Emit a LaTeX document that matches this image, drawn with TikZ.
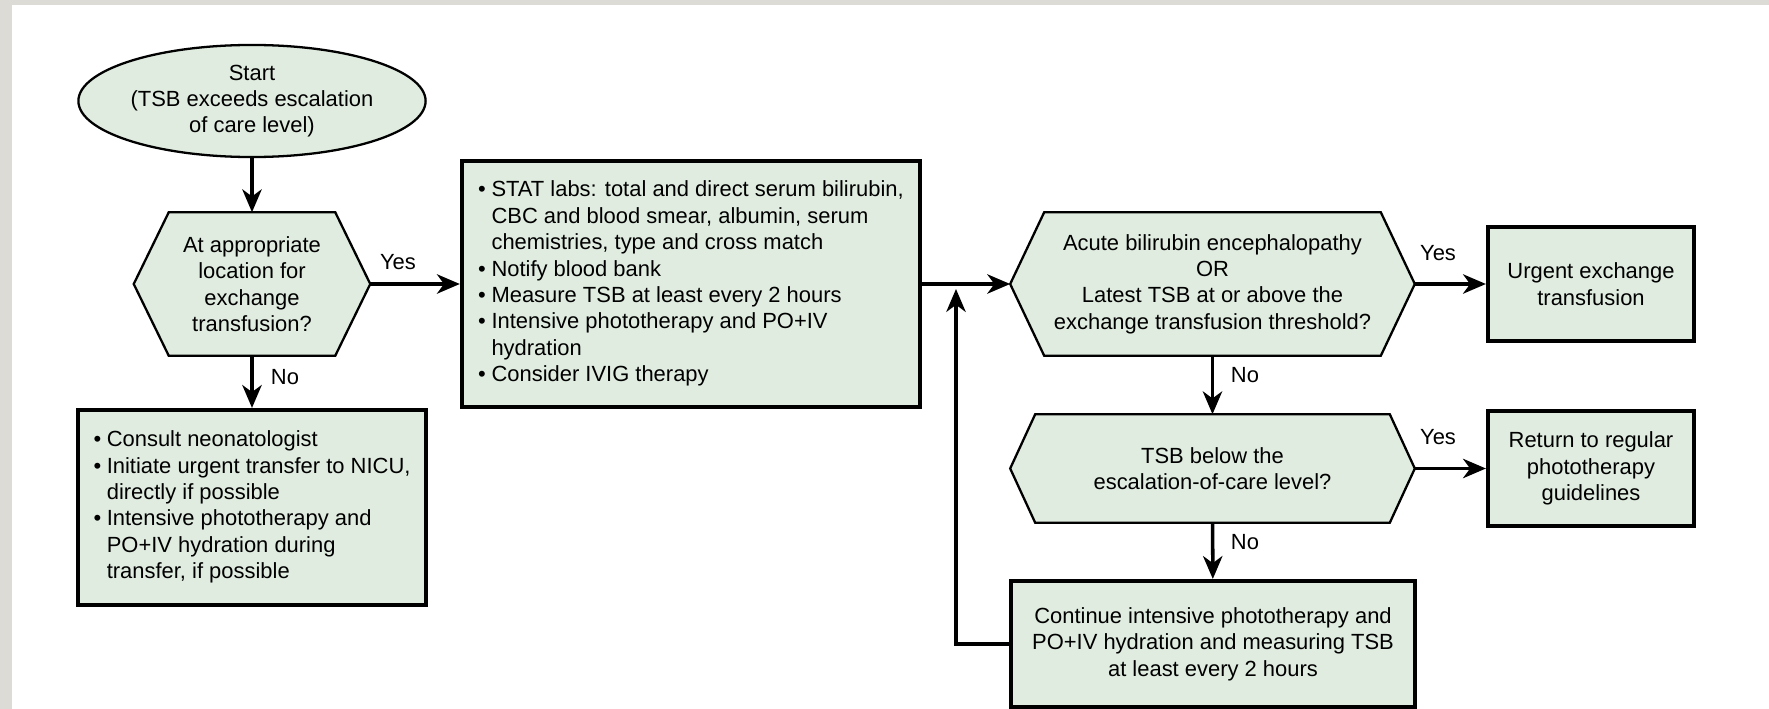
\documentclass[tikz,border=0pt]{standalone}
\usepackage{fontspec}
\setmainfont{Liberation Sans}
\usetikzlibrary{arrows.meta,shapes.geometric,backgrounds}

\definecolor{boxgreen}{RGB}{224,236,224}
\definecolor{pagegray}{RGB}{221,219,214}

\begin{document}
\begin{tikzpicture}[x=0.01cm,y=-0.01cm,
        every node/.style={font=\fontsize{6.24}{7.5}\selectfont, inner sep=0pt},
        hexline/.style={draw=black, line width=0.65pt, fill=boxgreen}]
        \useasboundingbox (0,0) rectangle (1769,709);
        \begin{scope}[on background layer]
            \fill[pagegray] (0,0) rectangle (1769,709);
            \fill[white] (12,5) rectangle (1769,709);
        \end{scope}

        \node (start) [ellipse, draw=black, line width=0.65pt, fill=boxgreen,
            minimum width=3.47cm, minimum height=1.12cm, align=center]
            at (252,101) {Start\\(TSB exceeds escalation\\of care level)};

        \begin{scope}[every node/.style={rectangle, align=center, inner sep=0pt,
                      font=\fontsize{6.24}{7.5}\selectfont}]
            \node (q1) [minimum width=2.35cm, minimum height=1.42cm] at (252,284)
                {At appropriate\\location for\\exchange\\transfusion?};
            \node (q2) [minimum width=4.03cm, minimum height=1.42cm] at (1212.5,284)
                {Acute bilirubin encephalopathy\\OR\\Latest TSB at or above the\\exchange transfusion threshold?};
            \node (q3) [minimum width=4.03cm, minimum height=1.07cm] at (1212.5,468.5)
                {TSB below the\\escalation-of-care level?};
        \end{scope}

        \begin{scope}[every node/.style={rectangle, draw=black, line width=1.15pt,
                      fill=boxgreen, align=center, inner sep=0pt,
                      font=\fontsize{6.24}{7.5}\selectfont}]
            \node (consult) [minimum width=3.47cm, minimum height=1.95cm] at (252,507.5)
                {\begin{tabular}{@{}l@{\hspace{1.6pt}}l@{}}
                 \textbullet & Consult neonatologist\\
                 \textbullet & Initiate urgent transfer to NICU,\\
                             & directly if possible\\
                 \textbullet & Intensive phototherapy and\\
                             & PO+IV hydration during\\
                             & transfer, if possible
                 \end{tabular}};
            \node (labs) [minimum width=4.58cm, minimum height=2.46cm] at (691,284)
                {\begin{tabular}{@{}l@{\hspace{1.6pt}}l@{}}
                 \textbullet & STAT labs: total and direct serum bilirubin,\\
                             & CBC and blood smear, albumin, serum\\
                             & chemistries, type and cross match\\
                 \textbullet & Notify blood bank\\
                 \textbullet & Measure TSB at least every 2 hours\\
                 \textbullet & Intensive phototherapy and PO+IV\\
                             & hydration\\
                 \textbullet & Consider IVIG therapy
                 \end{tabular}};
            \node (urgent) [minimum width=2.06cm, minimum height=1.14cm] at (1591,284)
                {Urgent exchange\\transfusion};
            \node (return) [minimum width=2.06cm, minimum height=1.14cm] at (1591,468.5)
                {Return to regular\\phototherapy\\guidelines};
            \node (cont) [minimum width=4.04cm, minimum height=1.26cm] at (1213,644)
                {Continue intensive phototherapy and\\PO+IV hydration and measuring TSB\\at least every 2 hours};
        \end{scope}

        % hexagon outlines behind the decision texts
        \begin{scope}[on background layer]
            \path[hexline] (q1.west) -- ([xshift=0.35cm]q1.north west) -- ([xshift=-0.35cm]q1.north east)
                -- (q1.east) -- ([xshift=-0.35cm]q1.south east) -- ([xshift=0.35cm]q1.south west) -- cycle;
            \path[hexline] (q2.west) -- ([xshift=0.34cm]q2.north west) -- ([xshift=-0.34cm]q2.north east)
                -- (q2.east) -- ([xshift=-0.34cm]q2.south east) -- ([xshift=0.34cm]q2.south west) -- cycle;
            \path[hexline] (q3.west) -- ([xshift=0.25cm]q3.north west) -- ([xshift=-0.25cm]q3.north east)
                -- (q3.east) -- ([xshift=-0.25cm]q3.south east) -- ([xshift=0.25cm]q3.south west) -- cycle;
        \end{scope}

        \node (yes1) at (398,262) {Yes};
        \node (no1) at (285,377) {No};
        \node (yes2) at (1438,253) {Yes};
        \node (no2) at (1245,375) {No};
        \node (yes3) at (1438,437) {Yes};
        \node (no3) at (1245,542) {No};

        \coordinate (jn) at (956,289);

        \begin{scope}[>={Stealth[length=6.5pt, width=5.5pt, inset=2pt]},
                      every edge/.style={draw=black, line width=1pt}]
            \path [->] (start) edge (q1);
            \path [->] (q1) edge (consult);
            \path [->] (q1) edge (labs);
            \path [->] (labs) edge (q2);
            \path [->] (q2) edge (urgent);
            \path [->] (q2) edge (q3);
            \path [->] (q3) edge (return);
            \path [->] (q3) edge (cont);
            \draw [->, line width=1pt] (cont.west) -| (jn);
        \end{scope}
    \end{tikzpicture}
\end{document}
